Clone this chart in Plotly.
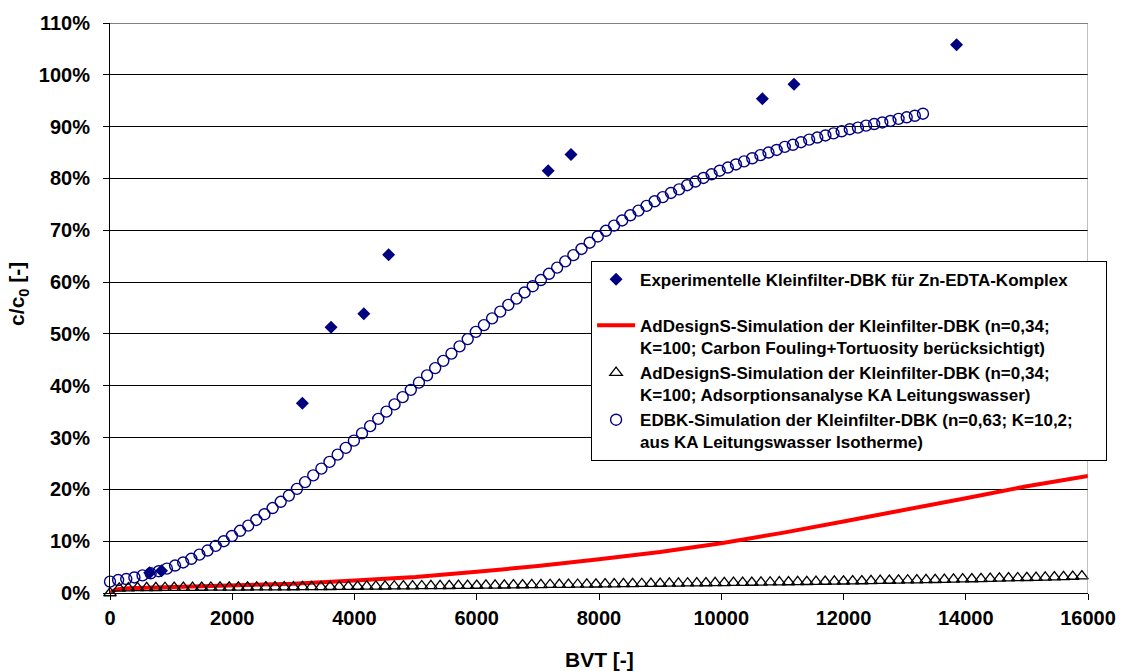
import plotly.graph_objects as go

# ---------------- data ----------------
exp_bvt = [649, 843, 3147, 3617, 4152, 4558, 7169, 7542, 10673, 11190, 13850]
exp_val = [3.9, 4.3, 36.6, 51.3, 53.9, 65.3, 81.5, 84.6, 95.4, 98.2, 105.8]

red_bvt = [0, 100, 300, 1000, 2000, 3000, 4000, 5000, 6000, 7000, 8000, 9000,
           10000, 11000, 12000, 13000, 14000, 15000, 16000]
red_val = [0.0, 0.7, 0.9, 1.1, 1.4, 1.8, 2.4, 3.1, 4.1, 5.2, 6.5, 7.9,
           9.6, 11.6, 13.8, 16.0, 18.3, 20.6, 22.6]

tri_bvt = [0, 150, 300, 450, 600, 750, 900, 1050, 1200, 1350,
           1500, 1650, 1800, 1950, 2100, 2250, 2400, 2550, 2700, 2850,
           3000, 3150, 3300, 3450, 3600, 3750, 3900, 4050, 4200, 4350,
           4500, 4650, 4800, 4950, 5100, 5250, 5400, 5550, 5700, 5850,
           6000, 6150, 6300, 6450, 6600, 6750, 6900, 7050, 7200, 7350,
           7500, 7650, 7800, 7950, 8100, 8250, 8400, 8550, 8700, 8850,
           9000, 9150, 9300, 9450, 9600, 9750, 9900, 10050, 10200, 10350,
           10500, 10650, 10800, 10950, 11100, 11250, 11400, 11550, 11700, 11850,
           12000, 12150, 12300, 12450, 12600, 12750, 12900, 13050, 13200, 13350,
           13500, 13650, 13800, 13950, 14100, 14250, 14400, 14550, 14700, 14850,
           15000, 15150, 15300, 15450, 15600, 15750, 15900]
tri_val = [0.00, 0.90, 0.95, 0.98, 1.00, 1.01, 1.02, 1.03, 1.04, 1.05,
           1.06, 1.07, 1.08, 1.09, 1.10, 1.11, 1.12, 1.13, 1.14, 1.15,
           1.16, 1.17, 1.19, 1.20, 1.21, 1.23, 1.24, 1.25, 1.27, 1.28,
           1.30, 1.31, 1.33, 1.34, 1.36, 1.37, 1.39, 1.40, 1.42, 1.44,
           1.45, 1.47, 1.49, 1.50, 1.52, 1.54, 1.56, 1.58, 1.60, 1.61,
           1.63, 1.65, 1.67, 1.69, 1.71, 1.73, 1.75, 1.77, 1.79, 1.81,
           1.83, 1.85, 1.87, 1.89, 1.91, 1.93, 1.95, 1.97, 1.99, 2.01,
           2.03, 2.06, 2.08, 2.10, 2.12, 2.15, 2.17, 2.19, 2.22, 2.24,
           2.27, 2.29, 2.32, 2.35, 2.38, 2.41, 2.44, 2.47, 2.50, 2.53,
           2.56, 2.60, 2.63, 2.67, 2.70, 2.74, 2.78, 2.82, 2.86, 2.90,
           2.94, 2.98, 3.03, 3.08, 3.13, 3.18, 3.25]

circ_bvt = [0, 133, 266, 399, 532, 665, 798, 931, 1064, 1197,
            1330, 1463, 1596, 1729, 1862, 1995, 2128, 2261, 2394, 2527,
            2660, 2793, 2926, 3059, 3192, 3325, 3458, 3591, 3724, 3857,
            3990, 4123, 4256, 4389, 4522, 4655, 4788, 4921, 5054, 5187,
            5320, 5453, 5586, 5719, 5852, 5985, 6118, 6251, 6384, 6517,
            6650, 6783, 6916, 7049, 7182, 7315, 7448, 7581, 7714, 7847,
            7980, 8113, 8246, 8379, 8512, 8645, 8778, 8911, 9044, 9177,
            9310, 9443, 9576, 9709, 9842, 9975, 10108, 10241, 10374, 10507,
            10640, 10773, 10906, 11039, 11172, 11305, 11438, 11571, 11704, 11837,
            11970, 12103, 12236, 12369, 12502, 12635, 12768, 12901, 13034, 13167,
            13300]
circ_val = [2.2, 2.5, 2.7, 3.0, 3.4, 3.8, 4.2, 4.7, 5.3, 5.9,
            6.6, 7.4, 8.2, 9.1, 10.0, 11.0, 12.0, 13.0, 14.1, 15.2,
            16.4, 17.6, 18.8, 20.1, 21.4, 22.7, 24.0, 25.3, 26.7, 28.0,
            29.4, 30.8, 32.2, 33.6, 35.0, 36.4, 37.8, 39.2, 40.6, 42.0,
            43.4, 44.8, 46.2, 47.6, 49.0, 50.4, 51.7, 53.0, 54.3, 55.6,
            56.8, 58.0, 59.2, 60.4, 61.6, 62.8, 64.0, 65.2, 66.4, 67.6,
            68.8, 69.9, 70.9, 71.9, 72.9, 73.8, 74.7, 75.6, 76.4, 77.2,
            77.9, 78.7, 79.4, 80.1, 80.8, 81.5, 82.1, 82.7, 83.3, 83.9,
            84.5, 85.0, 85.5, 86.1, 86.5, 87.0, 87.5, 87.9, 88.3, 88.7,
            89.1, 89.5, 89.8, 90.2, 90.5, 90.8, 91.1, 91.5, 91.8, 92.1,
            92.5]

x_ticks = [0, 2000, 4000, 6000, 8000, 10000, 12000, 14000, 16000]
y_ticks = [0, 10, 20, 30, 40, 50, 60, 70, 80, 90, 100, 110]
y_ticklabels = [f"{v}%" for v in y_ticks]

names = [
    "Experimentelle Kleinfilter-DBK für Zn-EDTA-Komplex",
    "AdDesignS-Simulation der Kleinfilter-DBK (n=0,34;<br>K=100; Carbon Fouling+Tortuosity berücksichtigt)",
    "AdDesignS-Simulation der Kleinfilter-DBK (n=0,34;<br>K=100; Adsorptionsanalyse KA Leitungswasser)",
    "EDBK-Simulation der Kleinfilter-DBK (n=0,63; K=10,2;" + "&nbsp;" * 6
    + "<br>aus KA Leitungswasser Isotherme)",
]

NAVY = "#000080"
FONT = "Liberation Sans, Arial, sans-serif"

fig = go.Figure()

fig.add_trace(go.Scatter(
    x=circ_bvt, y=circ_val, mode="markers", name=names[3], legendrank=4, legendgroup="sim",
    marker=dict(symbol="circle-open", size=11, color=NAVY, line=dict(width=1.4, color=NAVY)),
    cliponaxis=False))

fig.add_trace(go.Scatter(
    x=red_bvt, y=red_val, mode="lines", name=names[1], legendrank=2, legendgroup="sim",
    line=dict(color="#FF0000", width=4)))

fig.add_trace(go.Scatter(
    x=tri_bvt, y=tri_val, mode="markers", name=names[2], legendrank=3, legendgroup="sim",
    marker=dict(symbol="triangle-up-open", size=11, color="#000000", line=dict(width=1.3, color="#000000")),
    cliponaxis=False))

fig.add_trace(go.Scatter(
    x=exp_bvt, y=exp_val, mode="markers", name=names[0], legendrank=1, legendgroup="exp",
    marker=dict(symbol="diamond", size=10, color=NAVY, line=dict(width=0)),
    cliponaxis=False))

fig.update_layout(
    width=1128, height=671,
    margin=dict(l=110, r=34, t=22, b=78),
    paper_bgcolor="white", plot_bgcolor="white",
    font=dict(family=FONT, size=19, color="black", weight="bold"),
    showlegend=True,
    legend=dict(
        x=0.4919, y=0.583, xanchor="left", yanchor="top",
        bgcolor="white", bordercolor="#000000", borderwidth=1,
        font=dict(family=FONT, size=17, color="black", weight="bold"),
        valign="top", traceorder="grouped", tracegroupgap=21,
        itemwidth=38,
    ),
    xaxis=dict(
        range=[0, 16000], tickvals=x_ticks, ticktext=[str(v) for v in x_ticks],
        ticks="outside", ticklen=6, tickcolor="black", tickwidth=1,
        showline=True, linecolor="black", linewidth=1, showgrid=False, zeroline=False,
        tickfont=dict(family=FONT, size=20, color="black", weight="bold"),
        ticklabelstandoff=1,
    ),
    yaxis=dict(
        range=[0, 110], tickvals=y_ticks, ticktext=y_ticklabels,
        ticks="outside", ticklen=6, tickcolor="black", tickwidth=1,
        showline=True, linecolor="black", linewidth=1,
        showgrid=True, gridcolor="#000000", gridwidth=1, zeroline=False,
        tickfont=dict(family=FONT, size=20, color="black", weight="bold"),
        ticklabelstandoff=9,
    ),
    shapes=[
        dict(type="line", xref="x", yref="y", x0=0, x1=16000, y0=110, y1=110,
             line=dict(color="#808080", width=2), layer="above"),
        dict(type="line", xref="x", yref="y", x0=16000, x1=16000, y0=0, y1=110,
             line=dict(color="#808080", width=1), layer="above"),
    ],
    annotations=[
        dict(text="BVT [-]", xref="paper", yref="paper", x=0.5, y=-0.117,
             xanchor="center", yanchor="middle", showarrow=False,
             font=dict(family=FONT, size=21, color="black", weight="bold")),
        dict(text="c/c<sub>0</sub> [-]", xref="paper", yref="paper", x=-0.0935, y=0.524,
             xanchor="center", yanchor="middle", showarrow=False, textangle=-90,
             font=dict(family=FONT, size=21, color="black", weight="bold")),
    ],
)

fig.write_html("out.html")
